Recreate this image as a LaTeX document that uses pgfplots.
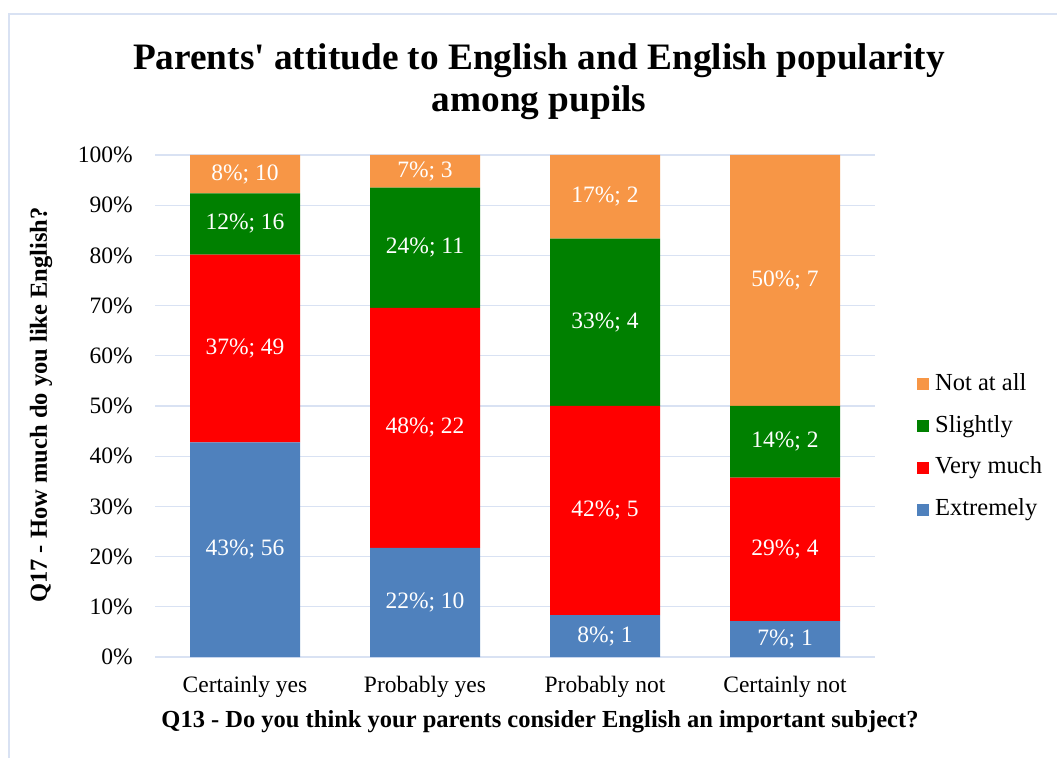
\documentclass[border=0pt]{standalone}
\usepackage{pgfplots}
\usepackage{pgfplotstable}
\pgfplotsset{compat=1.18}
\usepackage{fontspec}
\setmainfont{Liberation Serif}
\definecolor{cExt}{HTML}{4F81BD}
\definecolor{cVery}{HTML}{FF0000}
\definecolor{cSli}{HTML}{008000}
\definecolor{cNot}{HTML}{F79646}
\definecolor{gridc}{HTML}{D9E2F3}
\newcommand{\fs}{\fontsize{23.5}{28}\selectfont}
\newcommand{\fl}{\fontsize{24.5}{29}\selectfont}
\pgfplotstableread{
x y pct cnt
0 21.37 43 56
0 61.45 37 49
0 86.26 12 16
0 96.18 8 10
1 10.87 22 10
1 45.65 48 22
1 81.52 24 11
1 96.74 7 3
2 4.17 8 1
2 29.17 42 5
2 66.67 33 4
2 91.67 17 2
3 3.57 7 1
3 21.43 29 4
3 42.86 14 2
3 75.00 50 7
}\labeltable
\pgfplotsset{
  common/.style={
    at={(155pt,101pt)}, anchor=south west,
    scale only axis, width=720pt, height=502pt,
    xmin=-0.5, xmax=3.5, ymin=0, ymax=100,
  },
}
\begin{document}
\begin{tikzpicture}
\path[use as bounding box] (0pt,0pt) rectangle (1057pt,758pt);
\fill[white] (0pt,0pt) rectangle (1057pt,758pt);
\draw[gridc, line width=1.5pt] (9pt,0pt) -- (9pt,744pt) -- (1058pt,744pt);
\begin{axis}[
  common,
  ybar stacked, bar width=110pt,
  xtick={0,1,2,3}, xticklabels={Certainly yes, Probably yes, Probably not, Certainly not},
  ytick={0,10,...,100},
  yticklabel={\pgfmathprintnumber{\tick}\%},
  /pgf/number format/assume math mode=true,
  axis line style={draw=none},
  tick style={draw=none},
  ymajorgrids, major grid style={gridc, line width=1.2pt},
  tick label style={font=\fs, inner sep=0pt},
  yticklabel style={xshift=-22pt},
  xticklabel style={yshift=-18.5pt},
  reverse legend,
  legend style={at={(1.0583,0.4183)}, anchor=west, draw=none, fill=none, font=\fl, inner sep=0pt, row sep=19.7pt, column sep=6pt, nodes={inner sep=0pt, text height=17pt, text depth=5pt}},
  legend cell align=left,
  legend image code/.code={\fill[#1] (0pt,-6pt) rectangle (12pt,6pt);},
]
\addplot[fill=cExt, draw=none] coordinates {(0,42.75) (1,21.74) (2,8.33) (3,7.14)};
\addplot[fill=cVery, draw=none] coordinates {(0,37.40) (1,47.83) (2,41.67) (3,28.57)};
\addplot[fill=cSli, draw=none] coordinates {(0,12.21) (1,23.91) (2,33.33) (3,14.29)};
\addplot[fill=cNot, draw=none] coordinates {(0,7.64) (1,6.52) (2,16.67) (3,50.00)};
\legend{Extremely, Very much, Slightly, Not at all}
\end{axis}
\begin{axis}[
  common,
  hide axis,
  /pgf/number format/assume math mode=true,
]
\addplot[draw=none, mark=none,
  point meta=\thisrow{pct},
  visualization depends on={\thisrow{cnt}\as\cntv},
  nodes near coords={\pgfmathprintnumber{\pgfplotspointmeta}\%; \pgfmathprintnumber{\cntv}},
  every node near coord/.append style={anchor=center, font=\fs, text=white, inner sep=0pt},
] table[x=x, y=y] {\labeltable};
\end{axis}
\node[anchor=base, font=\fontsize{37.3}{44}\selectfont\bfseries] at (539pt,688pt) {Parents{\textquotesingle} attitude to English and English popularity};
\node[anchor=base, font=\fontsize{37.3}{44}\selectfont\bfseries] at (539pt,646pt) {among pupils};
\node[rotate=90, font=\fl\bfseries] at (41pt,353pt) {Q17 - How much do you like English?};
\node[anchor=base, font=\fl\bfseries] at (540pt,31pt) {Q13 - Do you think your parents consider English an important subject?};
\end{tikzpicture}
\end{document}
